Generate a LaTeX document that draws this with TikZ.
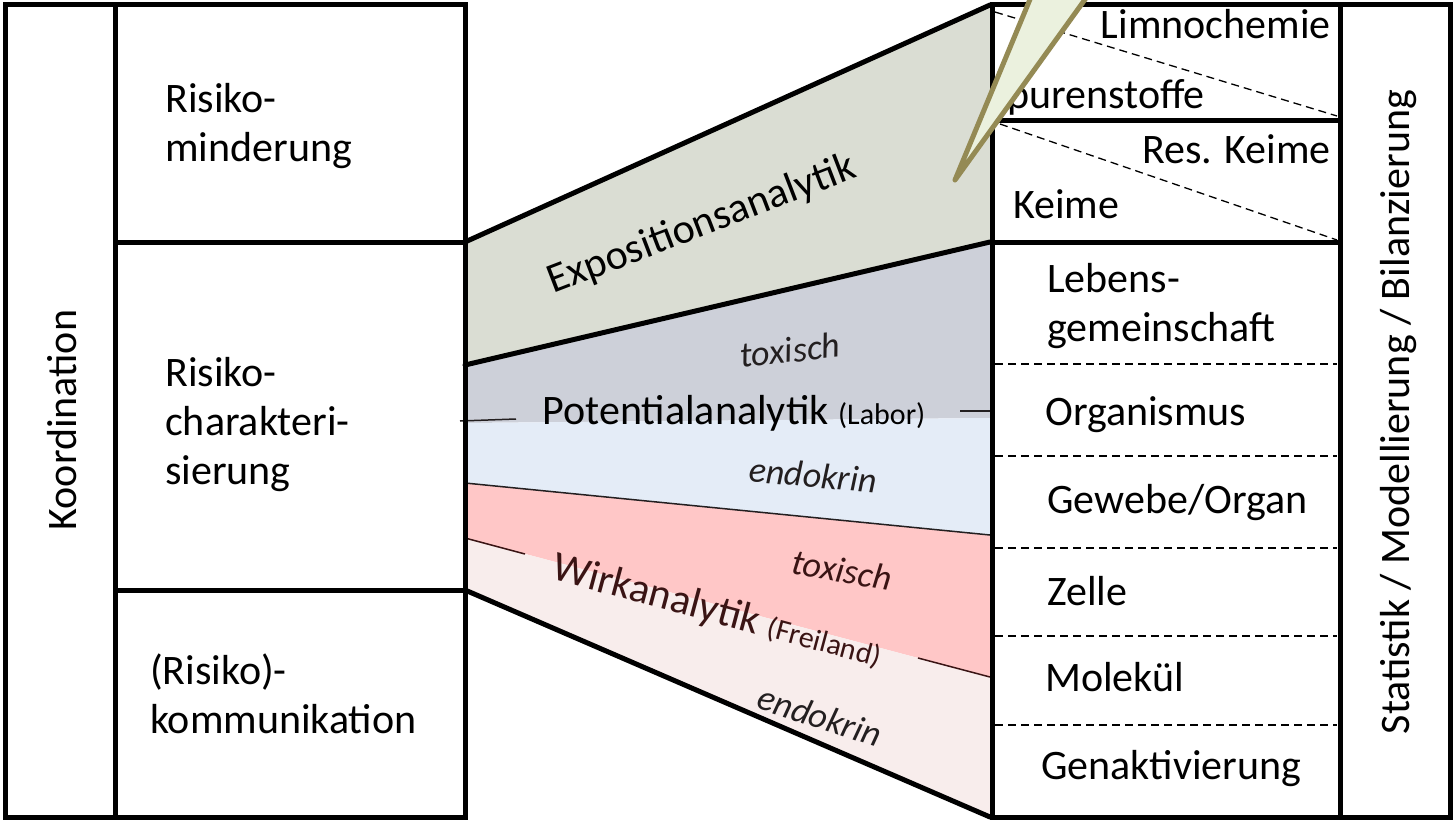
\documentclass[tikz,border=0pt]{standalone}
\usepackage{fontspec}
\setmainfont{Carlito}
\definecolor{inkblack}{HTML}{000000}
\definecolor{darktext}{HTML}{231F20}
\definecolor{wirktext}{HTML}{3A1414}
\definecolor{expofill}{HTML}{DADDD3}
\definecolor{potgrey}{HTML}{CDD0D9}
\definecolor{potblue}{HTML}{E4ECF7}
\definecolor{wirkred}{HTML}{FFC7C7}
\definecolor{wirkpink}{HTML}{F8EDEC}
\definecolor{calloutfill}{HTML}{EBF1DE}
\definecolor{calloutdraw}{HTML}{948A54}
\newcommand{\place}[1]{{\fontsize{30}{32}\selectfont #1}}

\begin{document}
\begin{tikzpicture}[
  x=1pt, y=-1pt,
  every node/.style={font=\fontsize{42}{49}\selectfont, inner sep=0pt, text=inkblack},
  lbl/.style={align=left, anchor=west},
  lvl/.style={anchor=base west},
  lvlr/.style={anchor=base east},
  side/.style={rotate=90},
  frame/.style={draw=inkblack, line width=5pt},
  edge/.style={draw=inkblack, line width=5pt, line cap=round},
  tick/.style={draw=darktext, line width=1.5pt},
  sep/.style={draw=inkblack, line width=1.3pt, dash pattern=on 8pt off 5pt},
  tag/.style={font=\fontsize{36}{40}\selectfont\itshape, text=darktext},
]
\useasboundingbox (0,0) rectangle (1455,822);

% funnel corners
\coordinate (eL) at (465,242); \coordinate (eR) at (990,5);
\coordinate (gL) at (465,365); \coordinate (gR) at (990,242);
\coordinate (bL) at (465,423); \coordinate (bR) at (990,418);
\coordinate (rL) at (465,483); \coordinate (rR) at (990,535);
\coordinate (pL) at (465,538); \coordinate (pR) at (990,677);
\coordinate (kL) at (465,590); \coordinate (kR) at (990,817);

% bands
\fill[expofill] (eL) -- (eR) -- (gR) -- (gL) -- cycle;
\fill[potgrey] (gL) -- (gR) -- (bR) -- (bL) -- cycle;
\fill[potblue] (bL) -- (bR) -- (rR) -- (rL) -- cycle;
\fill[wirkred] (rL) -- (rR) -- (pR) -- (pL) -- cycle;
\fill[wirkpink] (pL) -- (pR) -- (kR) -- (kL) -- cycle;
\draw[tick] (rL) -- (rR);
\draw[tick] (460,421) -- (516,419);
\draw[tick] (960,411) -- (990,411);
\draw[tick, draw=wirktext] (pL) -- (525,554);
\draw[tick, draw=wirktext] (918,658) -- (pR);
\draw[edge] (eL) -- (eR);
\draw[edge] (gL) -- (gR);
\draw[edge] (kL) -- (kR);

% left block
\draw[frame] (5,4) rectangle (465,817);
\draw[frame] (115,4) -- (115,817);
\draw[frame] (115,242) -- (465,242);
\draw[frame] (115,590) -- (465,590);

% right block
\draw[frame] (992,4) rectangle (1450,817);
\draw[frame] (1340,4) -- (1340,817);
\draw[frame] (992,120) -- (1340,120);
\draw[frame] (992,242) -- (1340,242);
\draw[sep] (995,12) -- (1337,116);
\draw[sep] (1000,124) -- (1337,240);
\foreach \y in {364,456,548,636,725}
  \draw[sep] (995,\y) -- (1337,\y);

% left labels
\node[side] (koord) at (62,420) {Koordination};
\node[lbl] (mind) at (165,126) {Risiko-\\minderung};
\node[lbl] (chara) at (165,425) {Risiko-\\charakteri-\\sierung};
\node[lbl] (komm) at (150,694) {(Risiko)-\\kommunikation};

% middle labels
\node[rotate=21] (expo) at (702,225) {Expositionsanalytik};
\node[tag, rotate=6] (toxa) at (790,350) {toxisch};
\node[anchor=base] (pot) at (734,424) {Potentialanalytik \place{(Labor)}};
\node[tag, rotate=-5] (endoa) at (813,475) {endokrin};
\node[tag, rotate=-10, text=wirktext] (toxb) at (842,570) {toxisch};
\node[rotate=-15, text=wirktext] (wirk) at (717,612) {Wirkanalytik \place{(Freiland)}};
\node[tag, rotate=-18] (endob) at (820,716) {endokrin};

% right labels
\node[lvlr] (limno) at (1331,38) {Limnochemie};
\node[lvl] (spur) at (988,108) {Spurenstoffe};
\node[lvlr] (reskeime) at (1331,163) {Res. Keime};
\node[lvl] (keime) at (1013,218) {Keime};
\node[lbl] (leben) at (1047,306) {Lebens-\\gemeinschaft};
\node[lvl] (orga) at (1045,425) {Organismus};
\node[lvl] (gewebe) at (1047,513) {Gewebe/Organ};
\node[lvl] (zelle) at (1047,605) {Zelle};
\node[lvl] (molek) at (1045,691) {Molekül};
\node[lvl] (gen) at (1041,779) {Genaktivierung};
\node[side] (stat) at (1399,412) {Statistik / Modellierung / Bilanzierung};

% callout pointer
\begin{scope}
  \clip (0,0) rectangle (1455,822);
  \filldraw[fill=calloutfill, draw=calloutdraw, line width=5pt, line join=round]
    (955,180) -- (1038,-20) -- (1099,-20) -- cycle;
\end{scope}
\end{tikzpicture}
\end{document}
